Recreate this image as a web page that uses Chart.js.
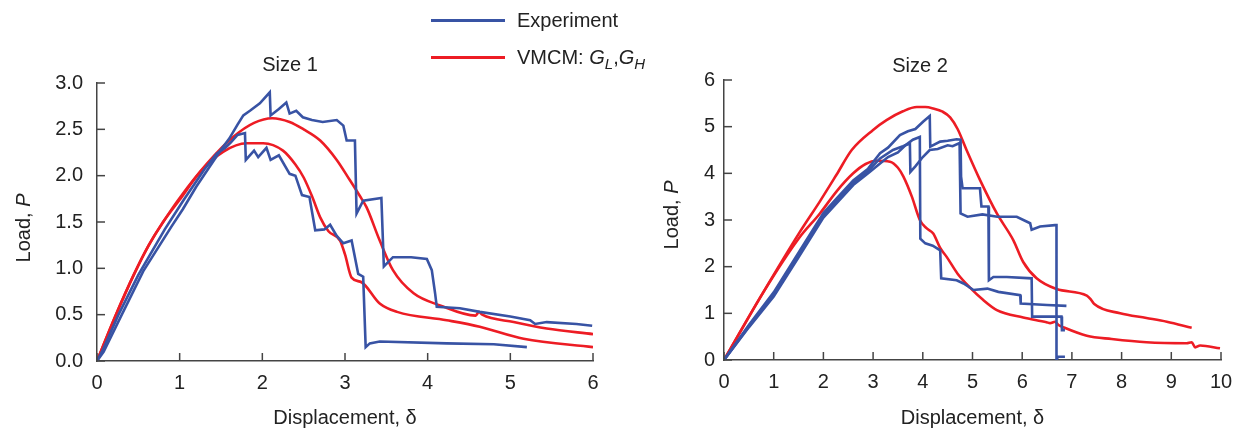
<!DOCTYPE html>
<html>
<head>
<meta charset="utf-8">
<script src="https://cdn.jsdelivr.net/npm/chart.js@4.4.0/dist/chart.umd.min.js"></script>
<style>
    body { margin: 0; background: #fff; font-family: 'Liberation Sans', Arial, sans-serif; }
    #wrap { position: relative; width: 1243px; height: 432px; overflow: hidden; }
    canvas { position: absolute; top: 0; }
    #c1 { left: 0; }
    #c2 { left: 620px; }
    .leg { position: absolute; left: 431px; font-size: 20px; color: #222; height: 24px; line-height: 24px; }
    .leg .ln { position: absolute; left: 0; top: 11px; width: 74px; height: 3px; }
    .leg .tx { position: absolute; left: 86px; top: 0; white-space: nowrap; }
    .leg sub { font-size: 15px; vertical-align: -5px; line-height: 0; }
</style>
</head>
<body>
<div id="wrap">
    <canvas id="c1" width="615" height="432"></canvas>
    <canvas id="c2" width="623" height="432"></canvas>
    <div class="leg" style="top:8px"><span class="ln" style="background:#3853a4"></span><span class="tx">Experiment</span></div>
    <div class="leg" style="top:45px"><span class="ln" style="background:#ed1c24"></span><span class="tx">VMCM: <i>G</i><sub><i>L</i></sub>,<i>G</i><sub><i>H</i></sub></span></div>
</div>
<script>
// ---- Size 1 data [displacement, load] ----
const size1ExpA = [[0,0],[0.08,0.1],[0.3,0.5],[0.56,0.97],[0.9,1.45],[1.04,1.64],[1.2,1.88],[1.35,2.08],[1.5,2.28],[1.6,2.4],[1.7,2.55],[1.77,2.65],[1.85,2.7],[1.97,2.78],
    [2.09,2.9],[2.1,2.65],[2.2,2.72],[2.29,2.79],[2.33,2.67],[2.41,2.7],[2.49,2.63],[2.6,2.6],[2.73,2.58],[2.9,2.6],[2.98,2.54],[3.02,2.38],[3.12,2.38],[3.14,1.59],
    [3.22,1.73],[3.44,1.76],[3.47,1.02],[3.58,1.12],[3.8,1.12],[3.99,1.1],[4.05,0.98],[4.09,0.73],[4.11,0.585],[4.39,0.57],[4.63,0.53],[5.0,0.48],[5.24,0.44],
    [5.3,0.4],[5.44,0.42],[5.8,0.4],[5.99,0.38]];
const size1ExpB = [[0,0],[0.06,0.1],[0.26,0.5],[0.5,0.93],[0.82,1.42],[1.05,1.74],[1.3,2.07],[1.45,2.24],[1.55,2.3],[1.62,2.36],[1.7,2.44],[1.79,2.46],[1.8,2.17],
    [1.9,2.27],[1.95,2.2],[2.05,2.3],[2.1,2.17],[2.2,2.22],[2.33,2.02],[2.4,2.0],[2.48,1.79],[2.57,1.77],[2.64,1.41],[2.75,1.42],[2.82,1.47],[2.9,1.35],[2.98,1.27],
    [3.08,1.3],[3.16,0.94],[3.22,0.91],[3.25,0.15],[3.3,0.19],[3.42,0.21],[4.23,0.19],[4.8,0.18],[5.2,0.15]];
const size1ModelHigh = [[0,0],[0.22,0.48],[0.45,0.94],[0.62,1.24],[0.8,1.5],[1.0,1.76],[1.33,2.13],[1.65,2.42],[1.9,2.57],[2.12,2.62],[2.33,2.58],[2.5,2.5],[2.7,2.38],
    [2.9,2.17],[3.06,1.95],[3.18,1.78],[3.26,1.66],[3.42,1.3],[3.58,0.98],[3.83,0.73],[4.15,0.6],[4.58,0.49],[4.62,0.53],[4.66,0.5],[5.04,0.42],[5.44,0.35],[6.0,0.29]];
const size1ModelLow = [[0,0],[0.22,0.48],[0.45,0.94],[0.62,1.24],[0.8,1.5],[1.0,1.74],[1.25,2.04],[1.53,2.26],[1.81,2.35],[2.01,2.35],[2.25,2.27],[2.4,2.12],[2.5,1.98],
    [2.6,1.78],[2.7,1.55],[2.8,1.4],[2.94,1.3],[3.0,1.15],[3.08,0.9],[3.2,0.85],[3.42,0.62],[3.63,0.53],[4.23,0.44],[4.63,0.37],[5.16,0.24],[6.0,0.15]];

// ---- Size 2 data [displacement, load] ----
const size2ExpP = [[0,0],[0.5,0.75],[1,1.45],[1.5,2.3],[2,3.15],[2.3,3.5],[2.6,3.85],[2.9,4.1],[3.14,4.43],[3.3,4.55],[3.54,4.82],[3.7,4.9],[3.85,4.95],[4.01,5.11],
    [4.14,5.23],[4.15,4.57],[4.35,4.68],[4.5,4.7],[4.68,4.73],[4.76,4.72],[4.77,3.93],[4.8,3.68],[5.15,3.68],[5.18,3.29],[5.32,3.29],[5.33,1.71],[5.42,1.78],[5.69,1.78],
    [6.19,1.75],[6.2,0.93],[6.79,0.93],[6.8,0.64],[6.86,0.64]];
const size2ExpR = [[0,0],[0.5,0.72],[1,1.4],[1.5,2.25],[2,3.1],[2.3,3.45],[2.6,3.8],[2.9,4.05],[3.14,4.32],[3.4,4.5],[3.6,4.58],[3.74,4.64],[3.75,4.03],[3.85,4.15],
    [4.0,4.35],[4.14,4.5],[4.3,4.52],[4.5,4.6],[4.6,4.58],[4.74,4.65],[4.76,3.14],[4.9,3.07],[5.2,3.12],[5.5,3.07],[5.89,3.07],[6.16,2.93],[6.19,2.79],[6.36,2.86],
    [6.66,2.89],[6.69,2.89],[6.69,0],[6.72,0.07],[6.86,0.07]];
const size2ExpQ = [[0,0],[0.5,0.7],[1,1.36],[1.5,2.2],[2,3.05],[2.3,3.4],[2.6,3.75],[2.9,4.0],[3.14,4.21],[3.3,4.35],[3.5,4.45],[3.65,4.6],[3.8,4.72],[3.94,4.78],
    [3.95,2.6],[4.05,2.5],[4.2,2.45],[4.35,2.35],[4.37,1.75],[4.68,1.71],[4.82,1.64],[5.02,1.5],[5.3,1.53],[5.52,1.46],[5.96,1.39],[5.97,1.21],[6.5,1.18],[6.89,1.16]];
const size2ModelHigh = [[0,0],[0.79,1.45],[1.53,2.75],[1.93,3.4],[2.27,3.98],[2.57,4.5],[3.0,4.93],[3.27,5.14],[3.6,5.33],[3.88,5.42],[4.05,5.42],[4.21,5.39],[4.4,5.32],
    [4.55,5.2],[4.7,4.95],[4.88,4.5],[5.15,3.86],[5.49,3.14],[5.82,2.57],[6.02,2.1],[6.29,1.75],[6.69,1.52],[7.3,1.38],[7.38,1.3],[7.45,1.2],[7.97,1.0],[8.5,0.9],
    [8.91,0.82],[9.41,0.69]];
const size2ModelLow = [[0,0],[0.79,1.45],[1.5,2.6],[1.93,3.14],[2.27,3.62],[2.6,4.0],[2.85,4.2],[3.07,4.27],[3.34,4.25],[3.5,4.12],[3.61,3.93],[3.78,3.5],[3.94,3.0],
    [4.08,2.82],[4.21,2.71],[4.35,2.4],[4.48,2.21],[4.7,1.85],[4.95,1.55],[5.2,1.3],[5.49,1.07],[6.02,0.91],[6.49,0.81],[6.56,0.79],[6.66,0.82],[6.73,0.75],[6.83,0.7],
    [7.3,0.52],[7.8,0.45],[8.5,0.38],[9.31,0.36],[9.41,0.38],[9.48,0.27],[9.58,0.31],[9.98,0.25]];

const BLUE = '#3853a4';
const RED = '#ed1c24';
const AXIS = '#444';
const TEXT = '#222';
const FONT = "'Liberation Sans', Arial, sans-serif";

const toXY = pts => pts.map(([x, y]) => ({ x, y }));

const expSet = pts => ({ data: toXY(pts), borderColor: BLUE, borderWidth: 2.6, pointRadius: 0, tension: 0 });
const modelSet = pts => ({ data: toXY(pts), borderColor: RED, borderWidth: 2.6, pointRadius: 0, cubicInterpolationMode: 'monotone' });

// inward ticks, panel title and the y axis title with italic P
const decor = {
    id: 'decor',
    afterDraw(chart, args, o) {
        const { ctx, chartArea: a, scales: { x, y } } = chart;
        ctx.save();
        ctx.strokeStyle = AXIS;
        ctx.lineWidth = 1.5;
        x.ticks.forEach((t, i) => {
            const px = x.getPixelForTick(i);
            ctx.beginPath(); ctx.moveTo(px, a.bottom); ctx.lineTo(px, a.bottom - 8); ctx.stroke();
        });
        y.ticks.forEach((t, i) => {
            const py = y.getPixelForTick(i);
            ctx.beginPath(); ctx.moveTo(a.left, py); ctx.lineTo(a.left + 8, py); ctx.stroke();
        });

        ctx.fillStyle = TEXT;
        ctx.textBaseline = 'middle';
        ctx.textAlign = 'center';
        ctx.font = `20px ${FONT}`;
        ctx.fillText(o.title, o.titleX, o.titleY);

        ctx.translate(o.yTitleX, o.yTitleY);
        ctx.rotate(-Math.PI / 2);
        ctx.textAlign = 'left';
        const head = 'Load, ';
        const wHead = ctx.measureText(head).width;
        ctx.font = `italic 20px ${FONT}`;
        const wP = ctx.measureText('P').width;
        const start = -(wHead + wP) / 2;
        ctx.font = `20px ${FONT}`;
        ctx.fillText(head, start, 0);
        ctx.font = `italic 20px ${FONT}`;
        ctx.fillText('P', start + wHead, 0);
        ctx.restore();
    }
};

function makeChart(id, datasets, cfg) {
    new Chart(document.getElementById(id), {
        type: 'line',
        data: { datasets },
        plugins: [decor],
        options: {
            responsive: false,
            animation: false,
            layout: { padding: { top: cfg.top, right: cfg.right, left: 0, bottom: 0 } },
            plugins: {
                legend: { display: false },
                tooltip: { enabled: false },
                decor: cfg.decor
            },
            scales: {
                x: {
                    type: 'linear',
                    min: 0, max: cfg.xMax,
                    afterFit: s => { s.height = cfg.xHeight; },
                    ticks: { stepSize: 1, color: TEXT, font: { size: 20, family: FONT }, padding: 10, maxRotation: 0 },
                    grid: { display: true, drawOnChartArea: false, drawTicks: false },
                    border: { display: true, color: AXIS, width: 1.5 },
                    title: { display: true, text: 'Displacement, δ', color: TEXT, font: { size: 20, family: FONT }, padding: { top: 0, bottom: 2 } }
                },
                y: {
                    type: 'linear',
                    min: 0, max: cfg.yMax,
                    afterFit: s => { s.width = cfg.yWidth; },
                    ticks: { stepSize: cfg.yStep, color: TEXT, font: { size: 20, family: FONT }, padding: cfg.yPad,
                        callback: v => cfg.yStep < 1 ? v.toFixed(1) : v },
                    grid: { display: true, drawOnChartArea: false, drawTicks: false },
                    border: { display: true, color: AXIS, width: 1.5 }
                }
            }
        }
    });
}

makeChart('c1',
    [expSet(size1ExpA), expSet(size1ExpB), modelSet(size1ModelHigh), modelSet(size1ModelLow)],
    { top: 83, right: 22, xMax: 6, yMax: 3, yStep: 0.5, xHeight: 71, yWidth: 97, yPad: 14,
      decor: { title: 'Size 1', titleX: 290, titleY: 65, yTitleX: 24, yTitleY: 228 } });

makeChart('c2',
    [expSet(size2ExpP), expSet(size2ExpR), expSet(size2ExpQ), modelSet(size2ModelHigh), modelSet(size2ModelLow)],
    { top: 80, right: 22, xMax: 10, yMax: 6, yStep: 1, xHeight: 72, yWidth: 104, yPad: 9,
      decor: { title: 'Size 2', titleX: 300, titleY: 66, yTitleX: 52, yTitleY: 215 } });
</script>
</body>
</html>
